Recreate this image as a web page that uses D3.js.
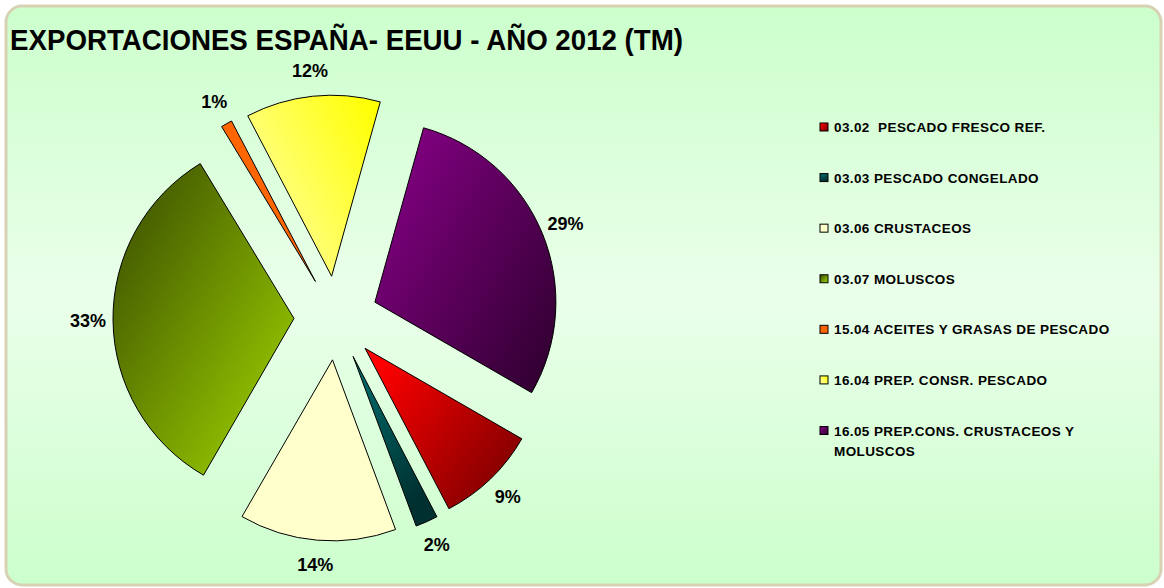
<!DOCTYPE html>
<html>
<head>
<meta charset="utf-8">
<script src="https://cdnjs.cloudflare.com/ajax/libs/d3/7.8.5/d3.min.js"></script>
<style>
  body { margin: 0; background: #ffffff; }
  text { font-family: "Liberation Sans", Arial, sans-serif; font-weight: bold; fill: #000; }
</style>
</head>
<body>
<div id="chart"></div>
<script>
// chart data
var categories = [
    "03.02  PESCADO FRESCO REF.",
    "03.03 PESCADO CONGELADO",
    "03.06 CRUSTACEOS",
    "03.07 MOLUSCOS",
    "15.04 ACEITES Y GRASAS DE PESCADO",
    "16.04 PREP. CONSR. PESCADO",
    "16.05 PREP.CONS. CRUSTACEOS Y|MOLUSCOS"
];
var values = [9, 2, 14, 33, 1, 12, 29];
var title = "EXPORTACIONES ESPAÑA- EEUU - AÑO 2012 (TM)";

// gradient colours per slice: [start, end, x1, y1, x2, y2]
var sliceColors = [
    ["#ff0000", "#6e0000", 0, 0.2, 1, 1],
    ["#007070", "#003030", 0, 0, 0.4, 1],
    ["#ffffcc", "#ffffcc", 0, 0, 1, 1],
    ["#445a00", "#95c800", 0.1, 0.15, 0.85, 0.9],
    ["#ff6600", "#ff6600", 0, 0, 1, 1],
    ["#ffffa6", "#ffff00", 0, 0.8, 1, 0.1],
    ["#820082", "#300030", 0.1, 0.1, 1, 0.9]
];

var width = 1164;
var height = 588;

var cx = 336, cy = 318;
var radius = 181;
var explode = 42;
var labelRadius = 248;

var svg = d3.select("#chart").append("svg")
    .attr("width", width)
    .attr("height", height);

var defs = svg.append("defs");

var bg = defs.append("linearGradient")
    .attr("id", "bg")
    .attr("x1", 0).attr("y1", 0)
    .attr("x2", 0).attr("y2", 1);
bg.append("stop").attr("offset", "0%").attr("stop-color", "#ccffcc");
bg.append("stop").attr("offset", "50%").attr("stop-color", "#eaffea");
bg.append("stop").attr("offset", "100%").attr("stop-color", "#ccffcc");

sliceColors.forEach(function(c, i) {
    var g = defs.append("linearGradient")
        .attr("id", "grad" + i)
        .attr("x1", c[2]).attr("y1", c[3])
        .attr("x2", c[4]).attr("y2", c[5]);
    g.append("stop").attr("offset", "0%").attr("stop-color", c[0]);
    g.append("stop").attr("offset", "100%").attr("stop-color", c[1]);
});

// chart area
svg.append("rect")
    .attr("x", 6)
    .attr("y", 6)
    .attr("width", 1155)
    .attr("height", 579)
    .attr("rx", 16)
    .attr("fill", "url(#bg)")
    .attr("stroke", "#d8d2b4")
    .attr("stroke-width", 3);

// title
svg.append("text")
    .attr("x", 10)
    .attr("y", 50)
    .attr("textLength", 673)
    .attr("lengthAdjust", "spacingAndGlyphs")
    .style("font-size", "30px")
    .text(title);

// pie
var start = 120 * Math.PI / 180;
var pie = d3.pie()
    .sort(null)
    .startAngle(start)
    .endAngle(start + 2 * Math.PI);

var arc = d3.arc()
    .innerRadius(0)
    .outerRadius(radius);

var arcs = pie(values);
var total = d3.sum(values);

var slices = svg.append("g")
    .attr("transform", "translate(" + cx + "," + cy + ")");

slices.selectAll("path")
    .data(arcs)
    .enter()
    .append("path")
    .attr("d", arc)
    .attr("transform", function(d) {
        var mid = (d.startAngle + d.endAngle) / 2;
        return "translate(" + (Math.sin(mid) * explode) + "," + (-Math.cos(mid) * explode) + ")";
    })
    .attr("fill", function(d, i) { return "url(#grad" + i + ")"; })
    .attr("stroke", "#000")
    .attr("stroke-width", 1);

// percentage labels
slices.selectAll("text.pct")
    .data(arcs)
    .enter()
    .append("text")
    .attr("class", "pct")
    .attr("x", function(d) { return Math.sin((d.startAngle + d.endAngle) / 2) * labelRadius; })
    .attr("y", function(d) { return -Math.cos((d.startAngle + d.endAngle) / 2) * labelRadius; })
    .attr("text-anchor", "middle")
    .attr("dominant-baseline", "central")
    .style("font-size", "18px")
    .text(function(d) { return Math.round(d.value / total * 100) + "%"; });

// legend
var legendY = d3.scalePoint()
    .domain(categories)
    .range([127, 430.5]);

var legend = svg.append("g");

var items = legend.selectAll("g")
    .data(categories)
    .enter()
    .append("g")
    .attr("transform", function(d) { return "translate(0," + legendY(d) + ")"; });

items.append("rect")
    .attr("x", 820)
    .attr("y", -4)
    .attr("width", 8)
    .attr("height", 8)
    .attr("fill", function(d, i) { return "url(#grad" + i + ")"; })
    .attr("stroke", "#000")
    .attr("stroke-width", 1);

items.append("text")
    .attr("x", 834)
    .attr("y", 0)
    .attr("dominant-baseline", "central")
    .style("font-size", "13.5px")
    .style("letter-spacing", "0.4px")
    .style("white-space", "pre")
    .each(function(d) {
        var lines = d.split("|");
        var el = d3.select(this);
        lines.forEach(function(line, j) {
            el.append("tspan")
                .attr("x", 834)
                .attr("dy", j === 0 ? 0 : 20)
                .text(line);
        });
    });
</script>
</body>
</html>
